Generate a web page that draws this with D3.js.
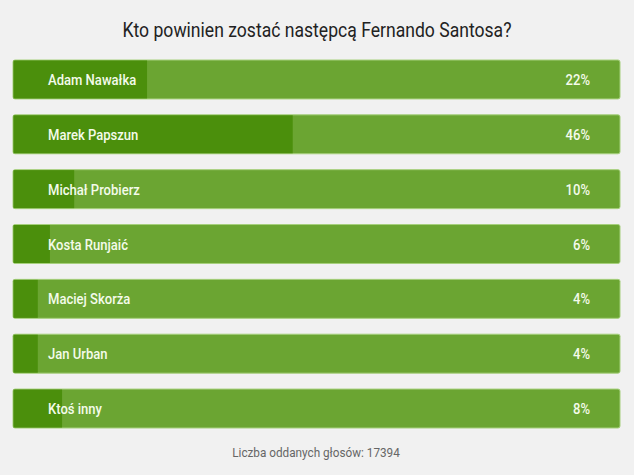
<!DOCTYPE html>
<html><head><meta charset="utf-8">
<script src="https://cdn.jsdelivr.net/npm/d3@7"></script>
<style>html,body{margin:0;padding:0;background:#f1f1f1;}</style>
</head><body>
<svg id="c" width="634" height="475"></svg>
<script>
const title = "Kto powinien zostać następcą Fernando Santosa?";
const candidates = ["Adam Nawałka","Marek Papszun","Michał Probierz","Kosta Runjaić","Maciej Skorża","Jan Urban","Ktoś inny"];
const percents = [22,46,10,6,4,4,8];
const footer = "Liczba oddanych głosów: 17394";

const svg = d3.select("#c");
svg.append("rect").attr("width",634).attr("height",475).attr("fill","#f1f1f1");

const x = d3.scaleLinear().domain([0,100]).range([13,620]);
const y = d3.scaleBand().domain(candidates).range([60,428]).paddingInner(0.29).paddingOuter(0);
const SX = 0.87;

svg.append("text").attr("x",317).attr("y",37).attr("text-anchor","middle")
  .attr("font-family","Roboto, 'Noto Sans', sans-serif").attr("font-size",19.5)
  .attr("fill","#222").attr("textLength",389).attr("lengthAdjust","spacingAndGlyphs").text(title);

const g = svg.selectAll("g.bar").data(candidates).join("g").attr("class","bar");
g.append("rect").attr("x",x(0)).attr("y",d=>y(d)).attr("width",x(100)-x(0)).attr("height",y.bandwidth())
  .attr("rx",2).attr("fill","#6ba532").attr("stroke","#a6d07c").attr("stroke-width",1);
g.append("rect").attr("x",x(0)+0.5).attr("y",(d)=>y(d)+0.5).attr("width",(d,i)=>x(percents[i])-x(0)).attr("height",y.bandwidth()-1)
  .attr("fill","#4b8f0c");
g.append("text").attr("transform",d=>`translate(48,${y(d)+y.bandwidth()/2+5.5}) scale(${SX},1)`)
  .attr("font-family","Roboto, sans-serif").attr("font-size",15).attr("font-weight",500)
  .attr("fill","#f4fbea").text(d=>d);
g.append("text").attr("transform",d=>`translate(590,${y(d)+y.bandwidth()/2+5.5}) scale(${SX},1)`).attr("text-anchor","end")
  .attr("font-family","Roboto, sans-serif").attr("font-size",15).attr("font-weight",500)
  .attr("fill","#f4fbea").text((d,i)=>percents[i]+"%");

svg.append("text").attr("transform",`translate(316,457) scale(${SX},1)`).attr("text-anchor","middle")
  .attr("font-family","Roboto, sans-serif").attr("font-size",13.5)
  .attr("fill","#666").text(footer);
</script>
</body></html>
